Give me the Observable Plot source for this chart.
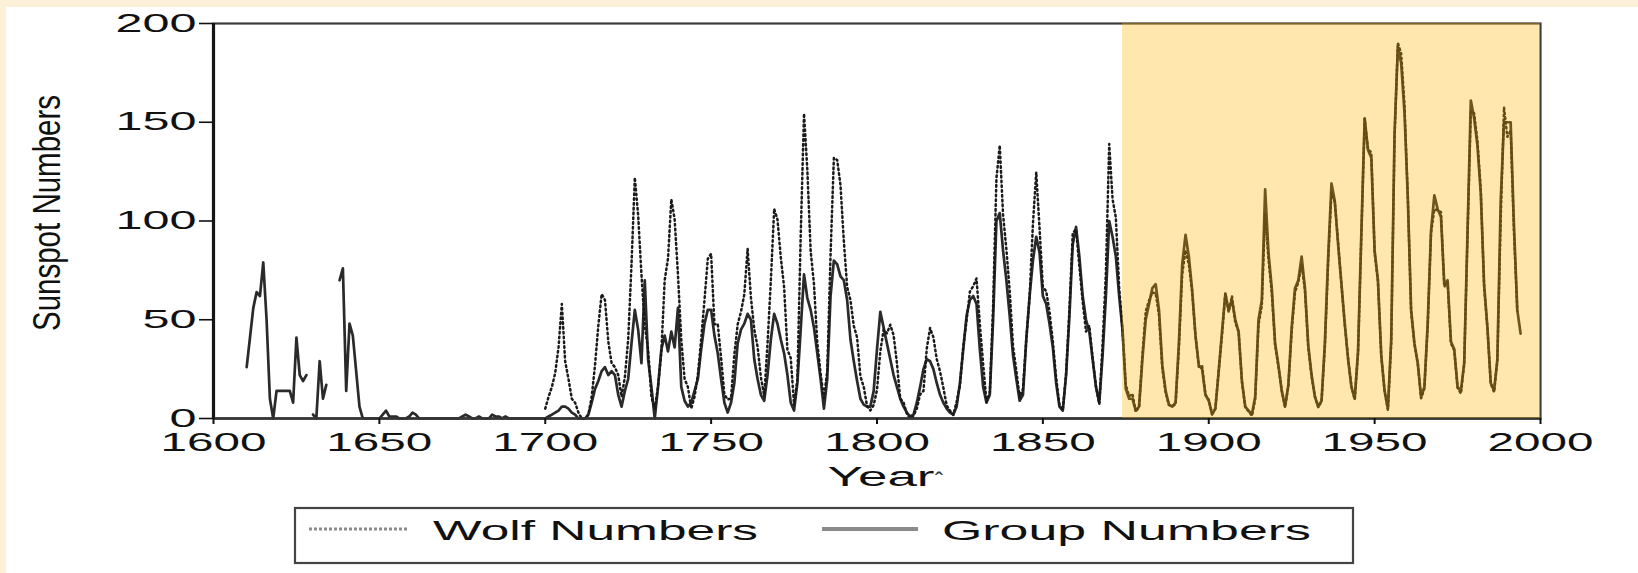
<!DOCTYPE html>
<html>
<head>
<meta charset="utf-8">
<script src="https://cdn.jsdelivr.net/npm/d3@7"></script>
<script src="https://cdn.jsdelivr.net/npm/@observablehq/plot@0.6"></script>
<style>
  html, body { margin: 0; padding: 0; }
  body { width: 1638px; height: 573px; background: #fcf0d8; position: relative; overflow: hidden; }
  #sheet { position: absolute; left: 6px; top: 7px; right: 0; bottom: 0; background: #fff; }
  #chart { position: absolute; left: 0; top: 0; }
</style>
</head>
<body>
<div id="sheet"></div>
<div id="chart"></div>
<script>
// Yearly group sunspot numbers (Hoyt & Schatten), null = no observations
const group1600s = [
  26, 41, 56, 64, 62, 79, 50, 10, 0, 14,        // 1610
  14, 14, 14, 14, 8, 41, 22, 19, 22, null,      // 1620
  2, 0, 29, 10, 17, null, null, null, 70, 76,   // 1630
  14, 48, 42, 24, 6, 0, 0, 0, 0, 0,             // 1640
  0, 2, 4, 1, 1, 1, 0, 0, 0, 1,                 // 1650
  3, 2, 0, 0, 0, 0, 0, 0, 0, 0,                 // 1660
  0, 0, 0, 0, 0, 1, 2, 1, 0, 0,                 // 1670
  1, 0, 0, 0, 2, 1, 1, 0, 1, 0,                 // 1680
  0, 0, 0, 0, 0, 0, 0, 0, 0, 0                  // 1690
];
const group1700s = [
  0, 1, 2, 3, 4, 6, 6, 5, 3, 2,
  0, 0, 0, 2, 8, 15, 19, 24, 26, 22,
  24, 22, 12, 6, 14, 20, 38, 55, 45, 28,
  70, 30, 16, 0, 16, 35, 42, 34, 44, 36,
  56, 16, 9, 6, 8, 14, 20, 35, 48, 55,
  55, 42, 33, 20, 8, 3, 8, 18, 38, 45,
  48, 53, 50, 30, 20, 12, 9, 22, 40, 53,
  48, 40, 33, 22, 8, 4, 18, 45, 73, 61,
  55, 46, 33, 20, 5, 20, 62, 80, 78, 72,
  70, 60, 40, 29, 19, 10, 7, 6, 6, 14
];
const group1800s = [
  35, 54, 46, 38, 30, 22, 16, 10, 6, 3,
  1, 2, 8, 16, 25, 30, 29, 25, 18, 12,
  8, 5, 3, 2, 6, 18, 35, 52, 60, 62,
  58, 35, 16, 8, 12, 50, 100, 104, 85, 70,
  52, 32, 20, 9, 12, 40, 62, 80, 92, 84,
  62, 58, 48, 36, 18, 6, 4, 22, 52, 88,
  97, 82, 62, 50, 44, 30, 16, 8, 32, 62,
  100, 92, 82, 62, 45, 15, 10, 10, 4, 6,
  30, 50, 58, 66, 68, 55, 27, 14, 7, 6,
  8, 38, 78, 93, 82, 65, 42, 27, 25, 12
];
const group1900s = [
  9, 2, 5, 24, 44, 63, 55, 60, 50, 44,
  19, 6, 4, 2, 11, 50, 60, 116, 84, 66,
  38, 27, 14, 6, 17, 46, 66, 70, 82, 66,
  37, 22, 11, 6, 9, 38, 82, 119, 110, 88,
  68, 48, 30, 16, 10, 34, 94, 152, 136, 132,
  85, 70, 32, 14, 5, 40, 144, 188, 180, 155,
  112, 55, 38, 28, 11, 16, 48, 95, 113, 106,
  102, 68, 70, 39, 35, 16, 14, 28, 94, 161,
  152, 138, 114, 68, 46, 18, 14, 30, 110, 150,
  150, 150, 98, 55, 43
];

// Yearly Wolf (Zurich) sunspot numbers
const wolf1700s = [
  5, 11, 16, 23, 36, 58, 29, 20, 10, 8,
  3, 0, 0, 2, 11, 27, 47, 63, 60, 39,
  28, 26, 22, 11, 21, 40, 78, 122, 103, 73,
  47, 35, 11, 5, 16, 34, 70, 81, 111, 101,
  73, 40, 20, 16, 5, 11, 22, 40, 60, 80.9,
  83.4, 47.7, 47.8, 30.7, 12.2, 9.6, 10.2, 32.4, 47.6, 54.0,
  62.9, 85.9, 61.2, 45.1, 36.4, 20.9, 11.4, 37.8, 69.8, 106.1,
  100.8, 81.6, 66.5, 34.8, 30.6, 7.0, 19.8, 92.5, 154.4, 125.9,
  84.8, 68.1, 38.5, 22.8, 10.2, 24.1, 82.9, 132.0, 130.9, 118.1,
  89.9, 66.6, 60.0, 46.9, 41.0, 21.3, 16.0, 6.4, 4.1, 6.8
];
const wolf1800s = [
  14.5, 34.0, 45.0, 43.1, 47.5, 42.2, 28.1, 10.1, 8.1, 2.5,
  0.0, 1.4, 5.0, 12.2, 13.9, 35.4, 45.8, 41.1, 30.1, 23.9,
  15.6, 6.6, 4.0, 1.8, 8.5, 16.6, 36.3, 49.6, 64.2, 67.0,
  70.9, 47.8, 27.5, 8.5, 13.2, 56.9, 121.5, 138.3, 103.2, 85.7,
  64.6, 36.7, 24.2, 10.7, 15.0, 40.1, 61.5, 98.5, 124.7, 96.3,
  66.6, 64.5, 54.1, 39.0, 20.6, 6.7, 4.3, 22.7, 54.8, 93.8,
  95.8, 77.2, 59.1, 44.0, 47.0, 30.5, 16.3, 7.3, 37.6, 74.0,
  139.0, 111.2, 101.6, 66.2, 44.7, 17.0, 11.3, 12.4, 3.4, 6.0,
  32.3, 54.3, 59.7, 63.7, 63.5, 52.2, 25.4, 13.1, 6.8, 6.3,
  7.1, 35.6, 73.0, 85.1, 78.0, 64.0, 41.8, 26.2, 26.7, 12.1
];
const wolf1900s = [
  9.5, 2.7, 5.0, 24.4, 42.0, 63.5, 53.8, 62.0, 48.5, 43.9,
  18.6, 5.7, 3.6, 1.4, 9.6, 47.4, 57.1, 103.9, 80.6, 63.6,
  37.6, 26.1, 14.2, 5.8, 16.7, 44.3, 63.9, 69.0, 77.8, 64.9,
  35.7, 21.2, 11.1, 5.7, 8.7, 36.1, 79.7, 114.4, 109.6, 88.8,
  67.8, 47.5, 30.6, 16.3, 9.6, 33.2, 92.6, 151.6, 136.3, 134.7,
  83.9, 69.4, 31.5, 13.9, 4.4, 38.0, 141.7, 190.2, 184.8, 159.0,
  112.3, 53.9, 37.6, 27.9, 10.2, 15.1, 47.0, 93.8, 105.9, 105.5,
  104.5, 66.6, 68.9, 38.0, 34.5, 15.5, 12.6, 27.5, 92.5, 155.4,
  154.6, 140.4, 115.9, 66.6, 45.9, 17.9, 13.4, 29.4, 100.2, 157.6,
  142.6, 145.7, 94.3, 54.6
];

// Era of routine modern observation, highlighted
const shadedEra = [{from: 1874, to: 2000}];

const xTicks = [1600, 1650, 1700, 1750, 1800, 1850, 1900, 1950, 2000];
const yTicks = [0, 50, 100, 150, 200];
const yTitle = "Sunspot Numbers";
const xTitle = "Year";
const legendLabels = ["Wolf Numbers", "Group Numbers"];

const toRows = (start, values) => values.map((v, i) => ({year: start + i, value: v}));
const groupRows = [
  ...toRows(1610, group1600s), ...toRows(1700, group1700s),
  ...toRows(1800, group1800s), ...toRows(1900, group1900s)
];
const wolfRows = [
  ...toRows(1700, wolf1700s), ...toRows(1800, wolf1800s), ...toRows(1900, wolf1900s)
];

const font = "'Liberation Sans', Arial, sans-serif";

const chart = Plot.plot({
  width: 1638,
  height: 573,
  marginLeft: 213,
  marginRight: 98,
  marginTop: 23,
  marginBottom: 155,
  x: {domain: [1600, 2000]},
  y: {domain: [0, 200]},
  style: {background: "transparent", fontFamily: font, color: "#111"},
  marks: [
    Plot.lineY(groupRows, {x: "year", y: "value", stroke: "#2a2a2a", strokeWidth: 2.7}),
    Plot.lineY(wolfRows, {x: "year", y: "value", stroke: "#1a1a1a", strokeWidth: 2.5, strokeDasharray: "1.6,3.2"}),
    Plot.frame({stroke: "#3c3c3c", strokeWidth: 2.2}),
    Plot.ruleY([0], {stroke: "#333", strokeWidth: 2.5}),
    Plot.ruleX([1600], {stroke: "#151515", strokeWidth: 3.2}),
    Plot.rect(shadedEra, {x1: "from", x2: "to", y1: 0, y2: 200, fill: "#ffb400", fillOpacity: 0.32}),
    Plot.axisY({ticks: yTicks, tickSize: 14, tickPadding: 3, fontSize: 25, tickFormat: d3.format("d"), strokeWidth: 1.6, label: null}),
    Plot.axisX({ticks: xTicks, tickSize: 6, tickPadding: 9, fontSize: 25, tickFormat: d3.format("d"), strokeWidth: 2, label: null}),
    Plot.text([yTitle], {frameAnchor: "left", rotate: -90, dx: -154, dy: -8, fontSize: 38, textAnchor: "middle", lineAnchor: "bottom", fill: "#111"}),
    Plot.text([xTitle], {frameAnchor: "bottom", dx: 4, dy: 67, fontSize: 28, textAnchor: "middle", lineAnchor: "bottom", fill: "#111"}),
    Plot.text(["ˆ"], {frameAnchor: "bottom", dx: 62, dy: 70, fontSize: 24, textAnchor: "middle", lineAnchor: "bottom", fill: "#333"})
  ]
});

const svg = d3.select(chart);

// The typeface of the figure is horizontally widened: stretch glyphs to the set widths
function widen(selection, lengthOf) {
  selection.each(function () {
    d3.select(this)
      .attr("textLength", lengthOf(this.textContent))
      .attr("lengthAdjust", "spacingAndGlyphs");
  });
}
widen(svg.selectAll('g[aria-label="x-axis tick label"] text'), t => t.length * 26.5);
widen(svg.selectAll('g[aria-label="y-axis tick label"] text'), t => t.length * 27);
widen(svg.selectAll("text").filter(function () { return this.textContent === yTitle; }), () => 236);
widen(svg.selectAll("text").filter(function () { return this.textContent === xTitle; }), () => 107);

// Legend box below the axis title
const legend = svg.append("g").attr("aria-label", "legend")
  .attr("font-family", font).attr("text-anchor", "start");
legend.append("rect")
  .attr("x", 295).attr("y", 508).attr("width", 1058).attr("height", 55)
  .attr("fill", "#fff").attr("stroke", "#444").attr("stroke-width", 2.2);
legend.append("line")
  .attr("x1", 309).attr("x2", 408).attr("y1", 529).attr("y2", 529)
  .attr("stroke", "#8c8c8c").attr("stroke-width", 3).attr("stroke-dasharray", "3,2");
legend.append("text")
  .attr("x", 433).attr("y", 540).attr("font-size", 28).attr("fill", "#111")
  .attr("text-anchor", "start")
  .attr("textLength", 325).attr("lengthAdjust", "spacingAndGlyphs")
  .text(legendLabels[0]);
legend.append("line")
  .attr("x1", 822).attr("x2", 918).attr("y1", 529).attr("y2", 529)
  .attr("stroke", "#8a8a8a").attr("stroke-width", 4);
legend.append("text")
  .attr("x", 942).attr("y", 540).attr("font-size", 28).attr("fill", "#111")
  .attr("text-anchor", "start")
  .attr("textLength", 369).attr("lengthAdjust", "spacingAndGlyphs")
  .text(legendLabels[1]);

document.getElementById("chart").appendChild(chart);
</script>
</body>
</html>
